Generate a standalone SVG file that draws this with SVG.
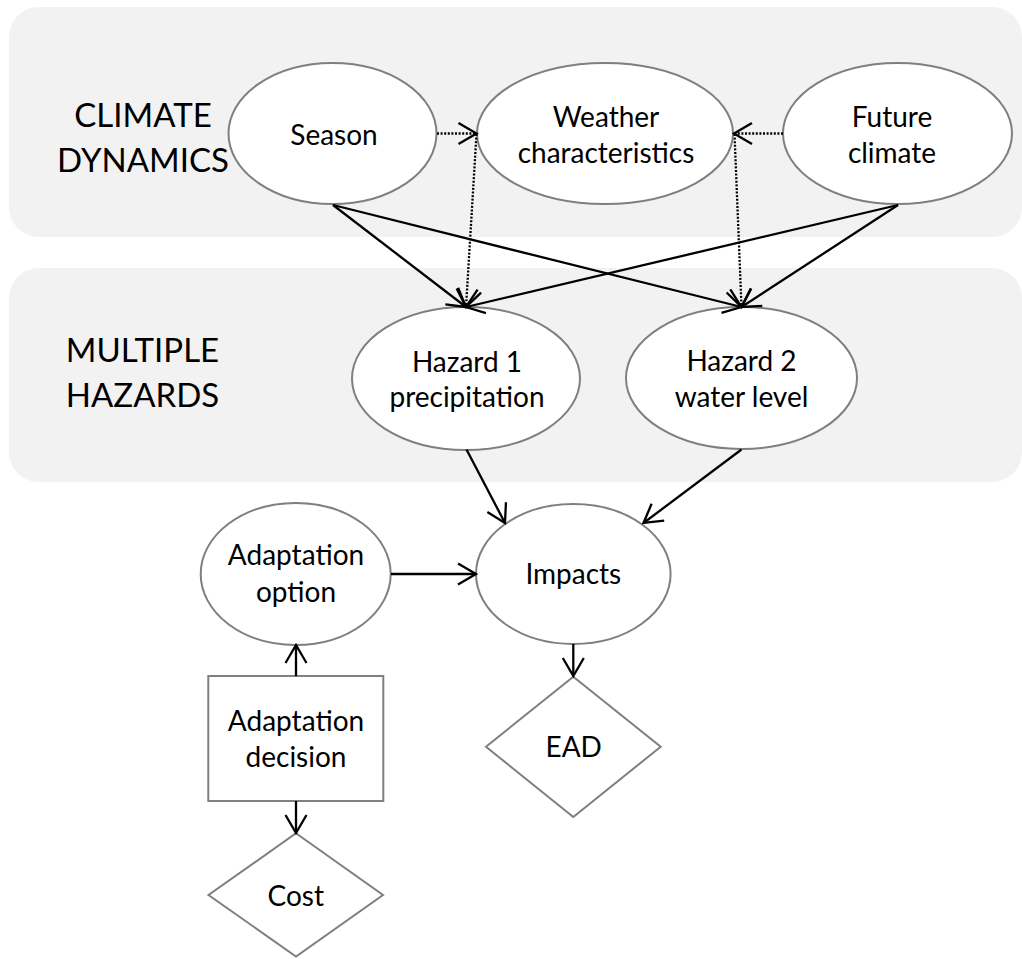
<svg xmlns="http://www.w3.org/2000/svg" width="1022" height="959" viewBox="0 0 1022 959">
  <style>
    .panel { fill: #f2f2f2; stroke: none; }
    .shape { fill: #ffffff; stroke: #7f7f7f; stroke-width: 2; }
    .label { font-family: Lato, "Liberation Sans", sans-serif; font-size: 28px; fill: #000000; text-anchor: middle; }
    .section { font-family: Lato, "Liberation Sans", sans-serif; font-size: 33px; fill: #000000; text-anchor: middle; }
    .edge { fill: none; stroke: #000000; stroke-width: 2.3; marker-end: url(#arrow); }
    .dotted { stroke-dasharray: 2 1.6; }
  </style>
  <defs>
    <marker id="arrow" markerUnits="userSpaceOnUse" viewBox="-30 -20 40 40" markerWidth="40" markerHeight="40" refX="0" refY="0" orient="auto" overflow="visible">
      <path d="M-18,-10.5 L0,0 L-18,10.5" fill="none" stroke="#000000" stroke-width="2.3"/>
    </marker>
  </defs>

  <!-- background bands -->
  <g id="band-climate">
    <rect class="panel" x="9" y="7" width="1013" height="230" rx="30" ry="30"/>
    <text class="section" x="143" y="126.7">CLIMATE</text>
    <text class="section" x="143" y="171.7">DYNAMICS</text>
  </g>
  <g id="band-hazards">
    <rect class="panel" x="9" y="268" width="1013" height="214" rx="30" ry="30"/>
    <text class="section" x="142.5" y="361.7">MULTIPLE</text>
    <text class="section" x="142.5" y="406.7">HAZARDS</text>
  </g>

  <!-- nodes -->
  <g id="season">
    <ellipse class="shape" cx="332.5" cy="133.5" rx="104" ry="70.5"/>
    <text class="label" x="334" y="145">Season</text>
  </g>
  <g id="weather">
    <ellipse class="shape" cx="605" cy="133.5" rx="128" ry="70.5"/>
    <text class="label" x="606" y="126.7">Weather</text>
    <text class="label" x="606" y="162.7">characteristics</text>
  </g>
  <g id="future-climate">
    <ellipse class="shape" cx="897.5" cy="133.5" rx="114.5" ry="70.5"/>
    <text class="label" x="892" y="127">Future</text>
    <text class="label" x="892" y="162.5">climate</text>
  </g>
  <g id="hazard1">
    <ellipse class="shape" cx="466" cy="378.5" rx="114" ry="71.5"/>
    <text class="label" x="467" y="371.7">Hazard 1</text>
    <text class="label" x="467" y="406.7">precipitation</text>
  </g>
  <g id="hazard2">
    <ellipse class="shape" cx="741.5" cy="378" rx="115.5" ry="71"/>
    <text class="label" x="741.5" y="370.7">Hazard 2</text>
    <text class="label" x="741.5" y="407">water level</text>
  </g>
  <g id="adaptation-option">
    <ellipse class="shape" cx="295.7" cy="574" rx="95" ry="71"/>
    <text class="label" x="296" y="565">Adaptation</text>
    <text class="label" x="296" y="601.7">option</text>
  </g>
  <g id="impacts">
    <ellipse class="shape" cx="573.3" cy="574" rx="97.3" ry="70"/>
    <text class="label" x="573.3" y="584">Impacts</text>
  </g>
  <g id="adaptation-decision">
    <rect class="shape" x="208.3" y="676" width="175" height="125"/>
    <text class="label" x="296" y="730.7">Adaptation</text>
    <text class="label" x="296" y="766.7">decision</text>
  </g>
  <g id="ead">
    <polygon class="shape" points="573.3,676.7 660.7,746.7 573.3,817 486,746.7"/>
    <text class="label" x="573.7" y="756.7">EAD</text>
  </g>
  <g id="cost">
    <polygon class="shape" points="296,833.3 383,895 296,956.5 208.5,895"/>
    <text class="label" x="295.7" y="906">Cost</text>
  </g>

  <!-- connectors -->
  <g id="connectors">
    <path class="edge dotted" d="M437,133.5 L476.5,133.5"/>
    <path class="edge dotted" d="M783,133.5 L734,133.5"/>
    <path class="edge dotted" d="M476.5,134 L466,307"/>
    <path class="edge dotted" d="M734.5,134 L741.5,307"/>
    <path class="edge" d="M333,205 L466,307"/>
    <path class="edge" d="M333,205 L741.5,307"/>
    <path class="edge" d="M898,205 L466,307"/>
    <path class="edge" d="M898,205 L741.5,307"/>
    <path class="edge" d="M466.5,449.5 L505,523"/>
    <path class="edge" d="M741.5,449.5 L643.5,523"/>
    <path class="edge" d="M391,574 L476,574"/>
    <path class="edge" d="M573.3,644 L573.3,676"/>
    <path class="edge" d="M296,676 L296,645"/>
    <path class="edge" d="M296,801 L296,833"/>
  </g>
</svg>
